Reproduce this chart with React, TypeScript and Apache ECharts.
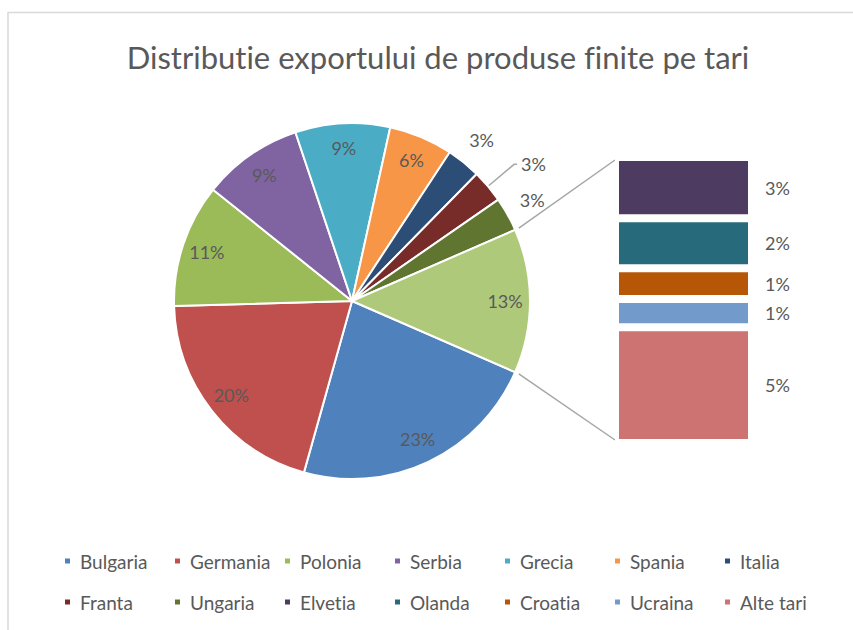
import React, { useEffect, useRef } from 'react';
import * as echarts from 'echarts';

// ---------- data ----------
const TITLE = 'Distributie exportului de produse finite pe tari';

const mainNames = ['Bulgaria', 'Germania', 'Polonia', 'Serbia', 'Grecia', 'Spania', 'Italia', 'Franta', 'Ungaria'];
const mainValues = [22.8, 20.2, 11.2, 9.1, 8.6, 5.8, 3.1, 3.0, 3.1];
const mainColors = ['#4F81BD', '#C0504D', '#9BBB59', '#8064A2', '#4BACC6', '#F79646', '#2C4D75', '#772C2A', '#5F7530'];

const otherName = 'Altele';
const otherColor = '#AFC97A';

const subNames = ['Elvetia', 'Olanda', 'Croatia', 'Ucraina', 'Alte tari'];
const subValues = [2.8, 2.3, 1.4, 1.3, 5.3];
const subColors = ['#4D3B62', '#276A7C', '#B65708', '#729ACA', '#CD7371'];

const legendRow1 = ['Bulgaria', 'Germania', 'Polonia', 'Serbia', 'Grecia', 'Spania', 'Italia'];
const legendRow2 = ['Franta', 'Ungaria', 'Elvetia', 'Olanda', 'Croatia', 'Ucraina', 'Alte tari'];

const leaderLineNames = ['Franta'];

// ---------- layout ----------
const W = 853;
const H = 630;
const FONT = 'Lato, "Open Sans", sans-serif';
const TEXT = '#595959';
const PIE_CX = 352;
const PIE_CY = 301;
const PIE_R = 178;
const BAR = { left: 615, top: 157, width: 137, height: 286 };

const CSS = `svg text { font-variant-ligatures: none !important; font-feature-settings: "liga" 0, "clig" 0 !important; }`;

export default function App() {
  const ref = useRef<HTMLDivElement>(null);

  useEffect(() => {
    if (!ref.current) return;
    const chart = echarts.init(ref.current, undefined, { renderer: 'svg', width: W, height: H });

    const otherValue = subValues.reduce((a, b) => a + b, 0);
    const total = mainValues.reduce((a, b) => a + b, 0) + otherValue;
    const pct = (v: number) => Math.round((v / total) * 100) + '%';

    const pieNames = [...mainNames, otherName];
    const pieValues = [...mainValues, otherValue];
    const pieColors = [...mainColors, otherColor];

    // screen angle (deg, clockwise from east) where first slice starts: other slice centred at east
    const startScreen = (otherValue / total) * 180;
    const mids: number[] = [];
    let acc = startScreen;
    pieValues.forEach((v) => {
      const span = (v / total) * 360;
      mids.push(acc + span / 2);
      acc += span;
    });

    const labelStyle = { fontFamily: FONT, fontSize: 18, color: TEXT };

    const pieData = pieNames.map((n, i) => {
      const small = pieValues[i] / total < 0.04;
      const item: any = { name: n, value: pieValues[i], itemStyle: { color: pieColors[i] } };
      if (small) {
        item.label = { position: 'outside' };
        item.labelLine = { show: leaderLineNames.includes(n) };
      }
      return item;
    });

    const theta = (startScreen * Math.PI) / 180;
    const topStart = [PIE_CX + (PIE_R + 4) * Math.cos(-theta), PIE_CY + (PIE_R + 4) * Math.sin(-theta)];
    const botStart = [PIE_CX + (PIE_R + 4) * Math.cos(theta), PIE_CY + (PIE_R + 4) * Math.sin(theta)];
    const topEnd = [BAR.left, BAR.top + 3];
    const botEnd = [BAR.left, BAR.top + BAR.height - 3];

    const legendBase = {
      left: 58,
      orient: 'horizontal',
      itemWidth: 7,
      itemHeight: 7,
      itemGap: 0,
      icon: 'rect',
      selectedMode: false,
      textStyle: { fontFamily: FONT, fontSize: 19, color: TEXT, width: 93, padding: [0, 0, 0, 4], lineHeight: 22 },
    };

    const option: any = {
      animation: false,
      backgroundColor: '#ffffff',
      title: {
        text: TITLE,
        left: 433,
        textAlign: 'center',
        top: 36,
        textStyle: { fontFamily: FONT, fontSize: 31, fontWeight: 'normal', color: TEXT },
      },
      legend: [
        { ...legendBase, top: 545, data: legendRow1 },
        { ...legendBase, top: 586, data: legendRow2 },
      ],
      grid: { left: BAR.left, top: BAR.top, width: BAR.width, height: BAR.height, containLabel: false },
      xAxis: { type: 'category', data: [otherName], show: false },
      yAxis: { type: 'value', min: 0, max: otherValue, inverse: true, show: false },
      graphic: [
        {
          type: 'rect',
          silent: true,
          z: -10,
          shape: { x: 8, y: 12.5, width: 900, height: 700 },
          style: { fill: 'none', stroke: '#d9d9d9', lineWidth: 1.5 },
        },
        {
          type: 'line',
          silent: true,
          shape: { x1: topStart[0], y1: topStart[1], x2: topEnd[0], y2: topEnd[1] },
          style: { stroke: '#a6a6a6', lineWidth: 1.5 },
        },
        {
          type: 'line',
          silent: true,
          shape: { x1: botStart[0], y1: botStart[1], x2: botEnd[0], y2: botEnd[1] },
          style: { stroke: '#a6a6a6', lineWidth: 1.5 },
        },
      ],
      series: [
        {
          type: 'pie',
          name: 'Export',
          center: [PIE_CX, PIE_CY],
          radius: [0, PIE_R],
          startAngle: -startScreen,
          clockwise: true,
          avoidLabelOverlap: false,
          data: pieData,
          itemStyle: { borderColor: '#ffffff', borderWidth: 2 },
          label: {
            show: true,
            position: 'inside',
            formatter: (p: any) => pct(p.value),
            distanceToLabelLine: 4,
            ...labelStyle,
          },
          labelLine: { show: false, length: 34, length2: 3, lineStyle: { color: '#a6a6a6', width: 1.5 } },
          labelLayout: (params: any) => {
            const i = params.dataIndex;
            const n = pieNames[i];
            if (leaderLineNames.includes(n)) return {};
            const small = pieValues[i] / total < 0.04;
            const rr = small ? PIE_R * 1.16 : PIE_R * 0.86;
            const a = (mids[i] * Math.PI) / 180;
            return {
              x: PIE_CX + rr * Math.cos(a),
              y: PIE_CY + rr * Math.sin(a),
              align: 'center',
              verticalAlign: 'middle',
            };
          },
        },
        ...subNames.map((n, i) => ({
          type: 'bar',
          name: n,
          stack: 'alte',
          barWidth: '100%',
          data: [subValues[i]],
          itemStyle: { color: subColors[i], borderColor: '#ffffff', borderWidth: 4 },
          label: {
            show: true,
            position: 'right',
            distance: 13,
            formatter: (p: any) => pct(p.value),
            ...labelStyle,
          },
        })),
      ],
    };

    chart.setOption(option);
    return () => chart.dispose();
  }, []);

  return (
    <>
      <style>{CSS}</style>
      <div
        ref={ref}
        style={{ position: 'fixed', left: 0, top: 0, width: W, height: H, background: '#fff' }}
      />
    </>
  );
}
